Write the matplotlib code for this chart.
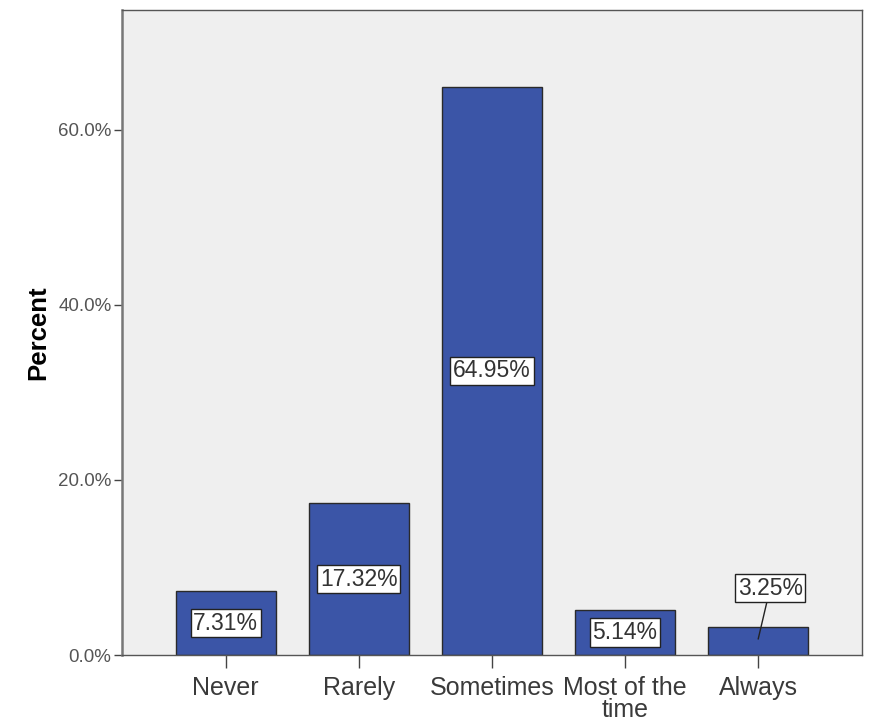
import matplotlib
matplotlib.use('Agg')
import matplotlib.pyplot as plt
from matplotlib.ticker import FuncFormatter

plt.rcParams['font.family'] = ['Liberation Sans', 'DejaVu Sans']

categories = ['Never', 'Rarely', 'Sometimes', 'Most of the\ntime', 'Always']
percents = [7.31, 17.32, 64.95, 5.14, 3.25]
yticks = [0, 20, 40, 60]

bar_color = '#3b55a7'
bg_color = '#efefef'

fig = plt.figure(figsize=(8.73, 7.24), dpi=100)
ax = fig.add_axes([0.1397, 0.0953, 0.8477, 0.8909])
ax.set_facecolor(bg_color)

x = range(len(categories))
ax.bar(x, percents, width=0.75, color=bar_color, edgecolor='#2a2a2a',
       linewidth=1.0, zorder=2)

ax.set_xlim(-0.78, 4.78)
ax.set_ylim(0, 73.7)
ax.set_xticks(list(x))
ax.set_xticklabels(categories, fontsize=18, linespacing=0.9)
ax.set_yticks(yticks)
ax.yaxis.set_major_formatter(FuncFormatter(lambda v, p: f'{v:.1f}%'))
ax.tick_params(axis='y', labelsize=13.5, colors='#444444', length=6, width=1.0, pad=1.5)
ax.tick_params(axis='x', length=9, width=1.0, colors='#444444', pad=6)
for lab in ax.get_yticklabels():
    lab.set_color('#555555')
for lab in ax.get_xticklabels():
    lab.set_color('#3a3a3a')

ax.set_ylabel('Percent', fontsize=18.5, fontweight='bold', labelpad=6)

for s in ax.spines.values():
    s.set_color('#555555')
    s.set_linewidth(1.0)
ax.spines['left'].set_linewidth(1.8)
ax.spines['left'].set_color('#777777')

box = dict(boxstyle='square,pad=0.12', facecolor='white', edgecolor='#222222', linewidth=1.0)

for i, v in enumerate(percents):
    if i == len(percents) - 1:
        ax.annotate(f'{v:.2f}%', xy=(i, v * 0.56), xytext=(i + 0.09, v + 4.4),
                    ha='center', va='center', fontsize=16.5, color='#333333',
                    bbox=box, zorder=4,
                    arrowprops=dict(arrowstyle='-', color='#222222', lw=1.0,
                                    shrinkA=0, shrinkB=0))
    else:
        ax.text(i, v / 2, f'{v:.2f}%', ha='center', va='center', fontsize=16.5,
                color='#333333', bbox=box, zorder=4)

fig.savefig('out.png', dpi=100, facecolor='white')
